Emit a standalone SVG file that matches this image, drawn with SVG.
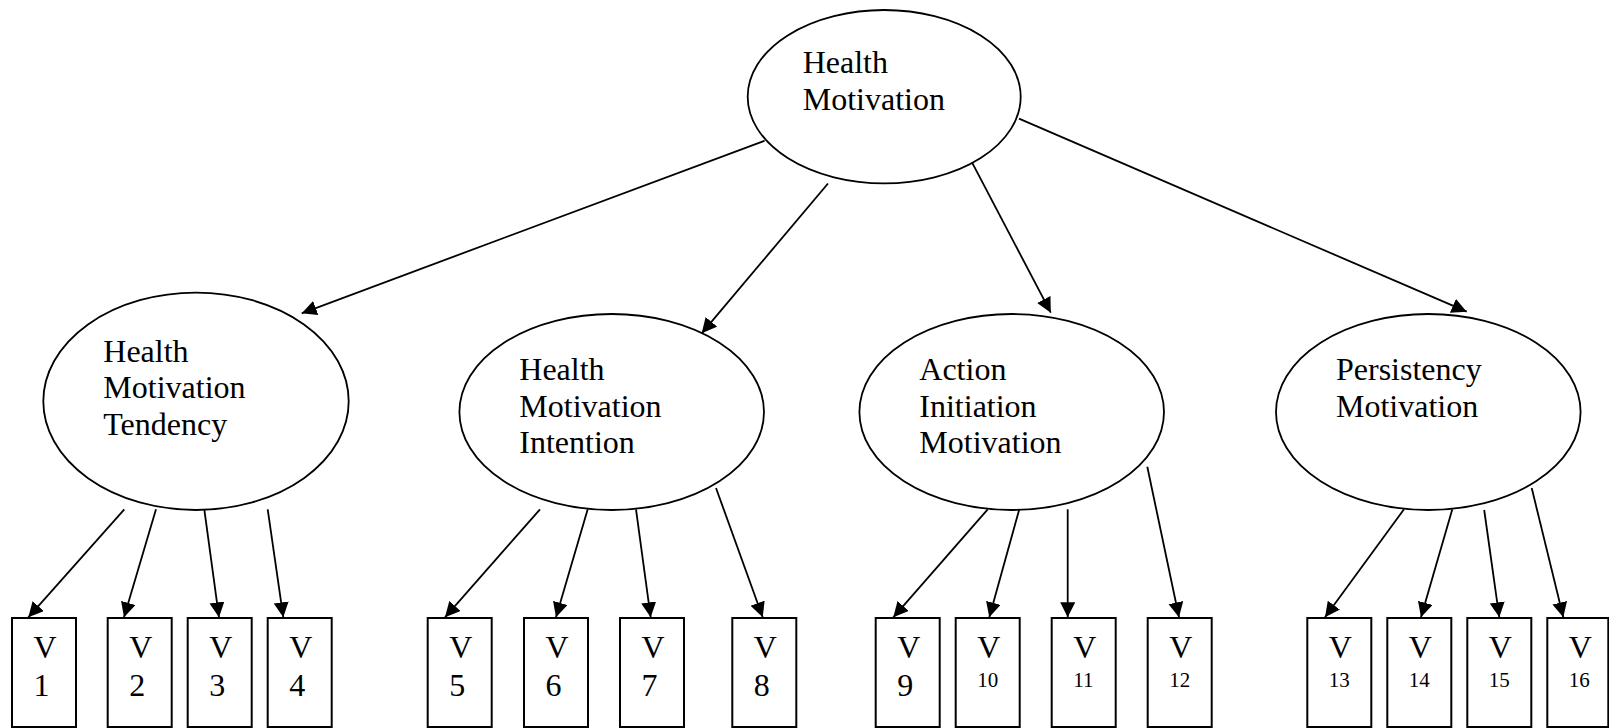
<svg xmlns="http://www.w3.org/2000/svg" width="1609" height="728" viewBox="0 0 1609 728">
<style>
.n{fill:#fff;stroke:#000;stroke-width:1.8}
.b{fill:#fff;stroke:#000;stroke-width:2}
.t{font-family:"Liberation Serif","Times New Roman",serif;font-size:32px;fill:#000}
.s{font-family:"Liberation Serif","Times New Roman",serif;font-size:21px;fill:#000}
.c line{stroke:#000;stroke-width:1.8;marker-end:url(#ah)}
</style>
<defs>
<marker id="ah" markerUnits="userSpaceOnUse" markerWidth="16" markerHeight="16" refX="15" refY="7.5" orient="auto">
<path d="M0,0 L15,7.5 L0,15 z" fill="#000"/>
</marker>
</defs>
<rect width="1609" height="728" fill="#fff"/>
<g id="hm"><ellipse class="n" cx="884.2" cy="96.7" rx="136.5" ry="86.7"/><text class="t" x="802.7" y="72.7">Health</text><text class="t" x="802.7" y="110">Motivation</text></g>
<g id="hmt"><ellipse class="n" cx="196" cy="401.3" rx="152.7" ry="108.7"/><text class="t" x="103.3" y="361.7">Health</text><text class="t" x="103.3" y="398.3">Motivation</text><text class="t" x="103.3" y="435.3">Tendency</text></g>
<g id="hmi"><ellipse class="n" cx="611.7" cy="412" rx="152.3" ry="98"/><text class="t" x="519.3" y="380">Health</text><text class="t" x="519.3" y="416.7">Motivation</text><text class="t" x="519.3" y="453.3">Intention</text></g>
<g id="aim"><ellipse class="n" cx="1011.7" cy="412" rx="152.3" ry="98"/><text class="t" x="919.3" y="380">Action</text><text class="t" x="919.3" y="416.7">Initiation</text><text class="t" x="919.3" y="453.3">Motivation</text></g>
<g id="pm"><ellipse class="n" cx="1428.3" cy="412" rx="152.3" ry="98"/><text class="t" x="1336" y="380">Persistency</text><text class="t" x="1336" y="416.7">Motivation</text></g>
<g id="v1"><rect class="b" x="12" y="618" width="64" height="109"/><text class="t" x="33.5" y="658.3">V</text><text class="t" x="33.5" y="696">1</text></g>
<g id="v2"><rect class="b" x="107.7" y="618" width="64" height="109"/><text class="t" x="129.2" y="658.3">V</text><text class="t" x="129.2" y="696">2</text></g>
<g id="v3"><rect class="b" x="187.7" y="618" width="64" height="109"/><text class="t" x="209.2" y="658.3">V</text><text class="t" x="209.2" y="696">3</text></g>
<g id="v4"><rect class="b" x="267.7" y="618" width="64" height="109"/><text class="t" x="289.2" y="658.3">V</text><text class="t" x="289.2" y="696">4</text></g>
<g id="v5"><rect class="b" x="427.7" y="618" width="64" height="109"/><text class="t" x="449.2" y="658.3">V</text><text class="t" x="449.2" y="696">5</text></g>
<g id="v6"><rect class="b" x="524" y="618" width="64" height="109"/><text class="t" x="545.5" y="658.3">V</text><text class="t" x="545.5" y="696">6</text></g>
<g id="v7"><rect class="b" x="620" y="618" width="64" height="109"/><text class="t" x="641.5" y="658.3">V</text><text class="t" x="641.5" y="696">7</text></g>
<g id="v8"><rect class="b" x="732.3" y="618" width="64" height="109"/><text class="t" x="753.8" y="658.3">V</text><text class="t" x="753.8" y="696">8</text></g>
<g id="v9"><rect class="b" x="875.7" y="618" width="64" height="109"/><text class="t" x="897.2" y="658.3">V</text><text class="t" x="897.2" y="696">9</text></g>
<g id="v10"><rect class="b" x="955.7" y="618" width="64" height="109"/><text class="t" x="977.2" y="658.3">V</text><text class="s" x="977.2" y="686.7">10</text></g>
<g id="v11"><rect class="b" x="1051.7" y="618" width="64" height="109"/><text class="t" x="1073.2" y="658.3">V</text><text class="s" x="1073.2" y="686.7">11</text></g>
<g id="v12"><rect class="b" x="1147.7" y="618" width="64" height="109"/><text class="t" x="1169.2" y="658.3">V</text><text class="s" x="1169.2" y="686.7">12</text></g>
<g id="v13"><rect class="b" x="1307.3" y="618" width="64" height="109"/><text class="t" x="1328.8" y="658.3">V</text><text class="s" x="1328.8" y="686.7">13</text></g>
<g id="v14"><rect class="b" x="1387.3" y="618" width="64" height="109"/><text class="t" x="1408.8" y="658.3">V</text><text class="s" x="1408.8" y="686.7">14</text></g>
<g id="v15"><rect class="b" x="1467.3" y="618" width="64" height="109"/><text class="t" x="1488.8" y="658.3">V</text><text class="s" x="1488.8" y="686.7">15</text></g>
<g id="v16"><rect class="b" x="1547.3" y="618" width="61" height="109"/><text class="t" x="1568.8" y="658.3">V</text><text class="s" x="1568.8" y="686.7">16</text></g>
<g id="connectors" class="c">
<line x1="764.6" y1="140.7" x2="301.7" y2="313.3"/>
<line x1="828" y1="183.5" x2="701.7" y2="333.3"/>
<line x1="972" y1="162.3" x2="1050.8" y2="312.7"/>
<line x1="1019" y1="118.6" x2="1466.7" y2="311.7"/>
<line x1="124.3" y1="509.3" x2="28.3" y2="617.3"/>
<line x1="156" y1="509.3" x2="124" y2="617.3"/>
<line x1="204.3" y1="509.3" x2="219" y2="617.3"/>
<line x1="267.7" y1="509.3" x2="283.3" y2="617.3"/>
<line x1="540" y1="509.3" x2="445" y2="617.3"/>
<line x1="587.7" y1="509.3" x2="556" y2="617.3"/>
<line x1="636" y1="509.3" x2="650.7" y2="617.3"/>
<line x1="716" y1="488" x2="762.7" y2="617.3"/>
<line x1="987.7" y1="509.3" x2="893.3" y2="617.3"/>
<line x1="1019.3" y1="509.3" x2="989.3" y2="617.3"/>
<line x1="1067.7" y1="509.3" x2="1067.7" y2="617.3"/>
<line x1="1147.3" y1="466.7" x2="1179" y2="617.3"/>
<line x1="1404" y1="509.3" x2="1325" y2="617.3"/>
<line x1="1452.3" y1="509.3" x2="1421" y2="617.3"/>
<line x1="1484.2" y1="510" x2="1499.3" y2="617.3"/>
<line x1="1531.7" y1="488" x2="1563.3" y2="617.3"/>
</g>
</svg>
